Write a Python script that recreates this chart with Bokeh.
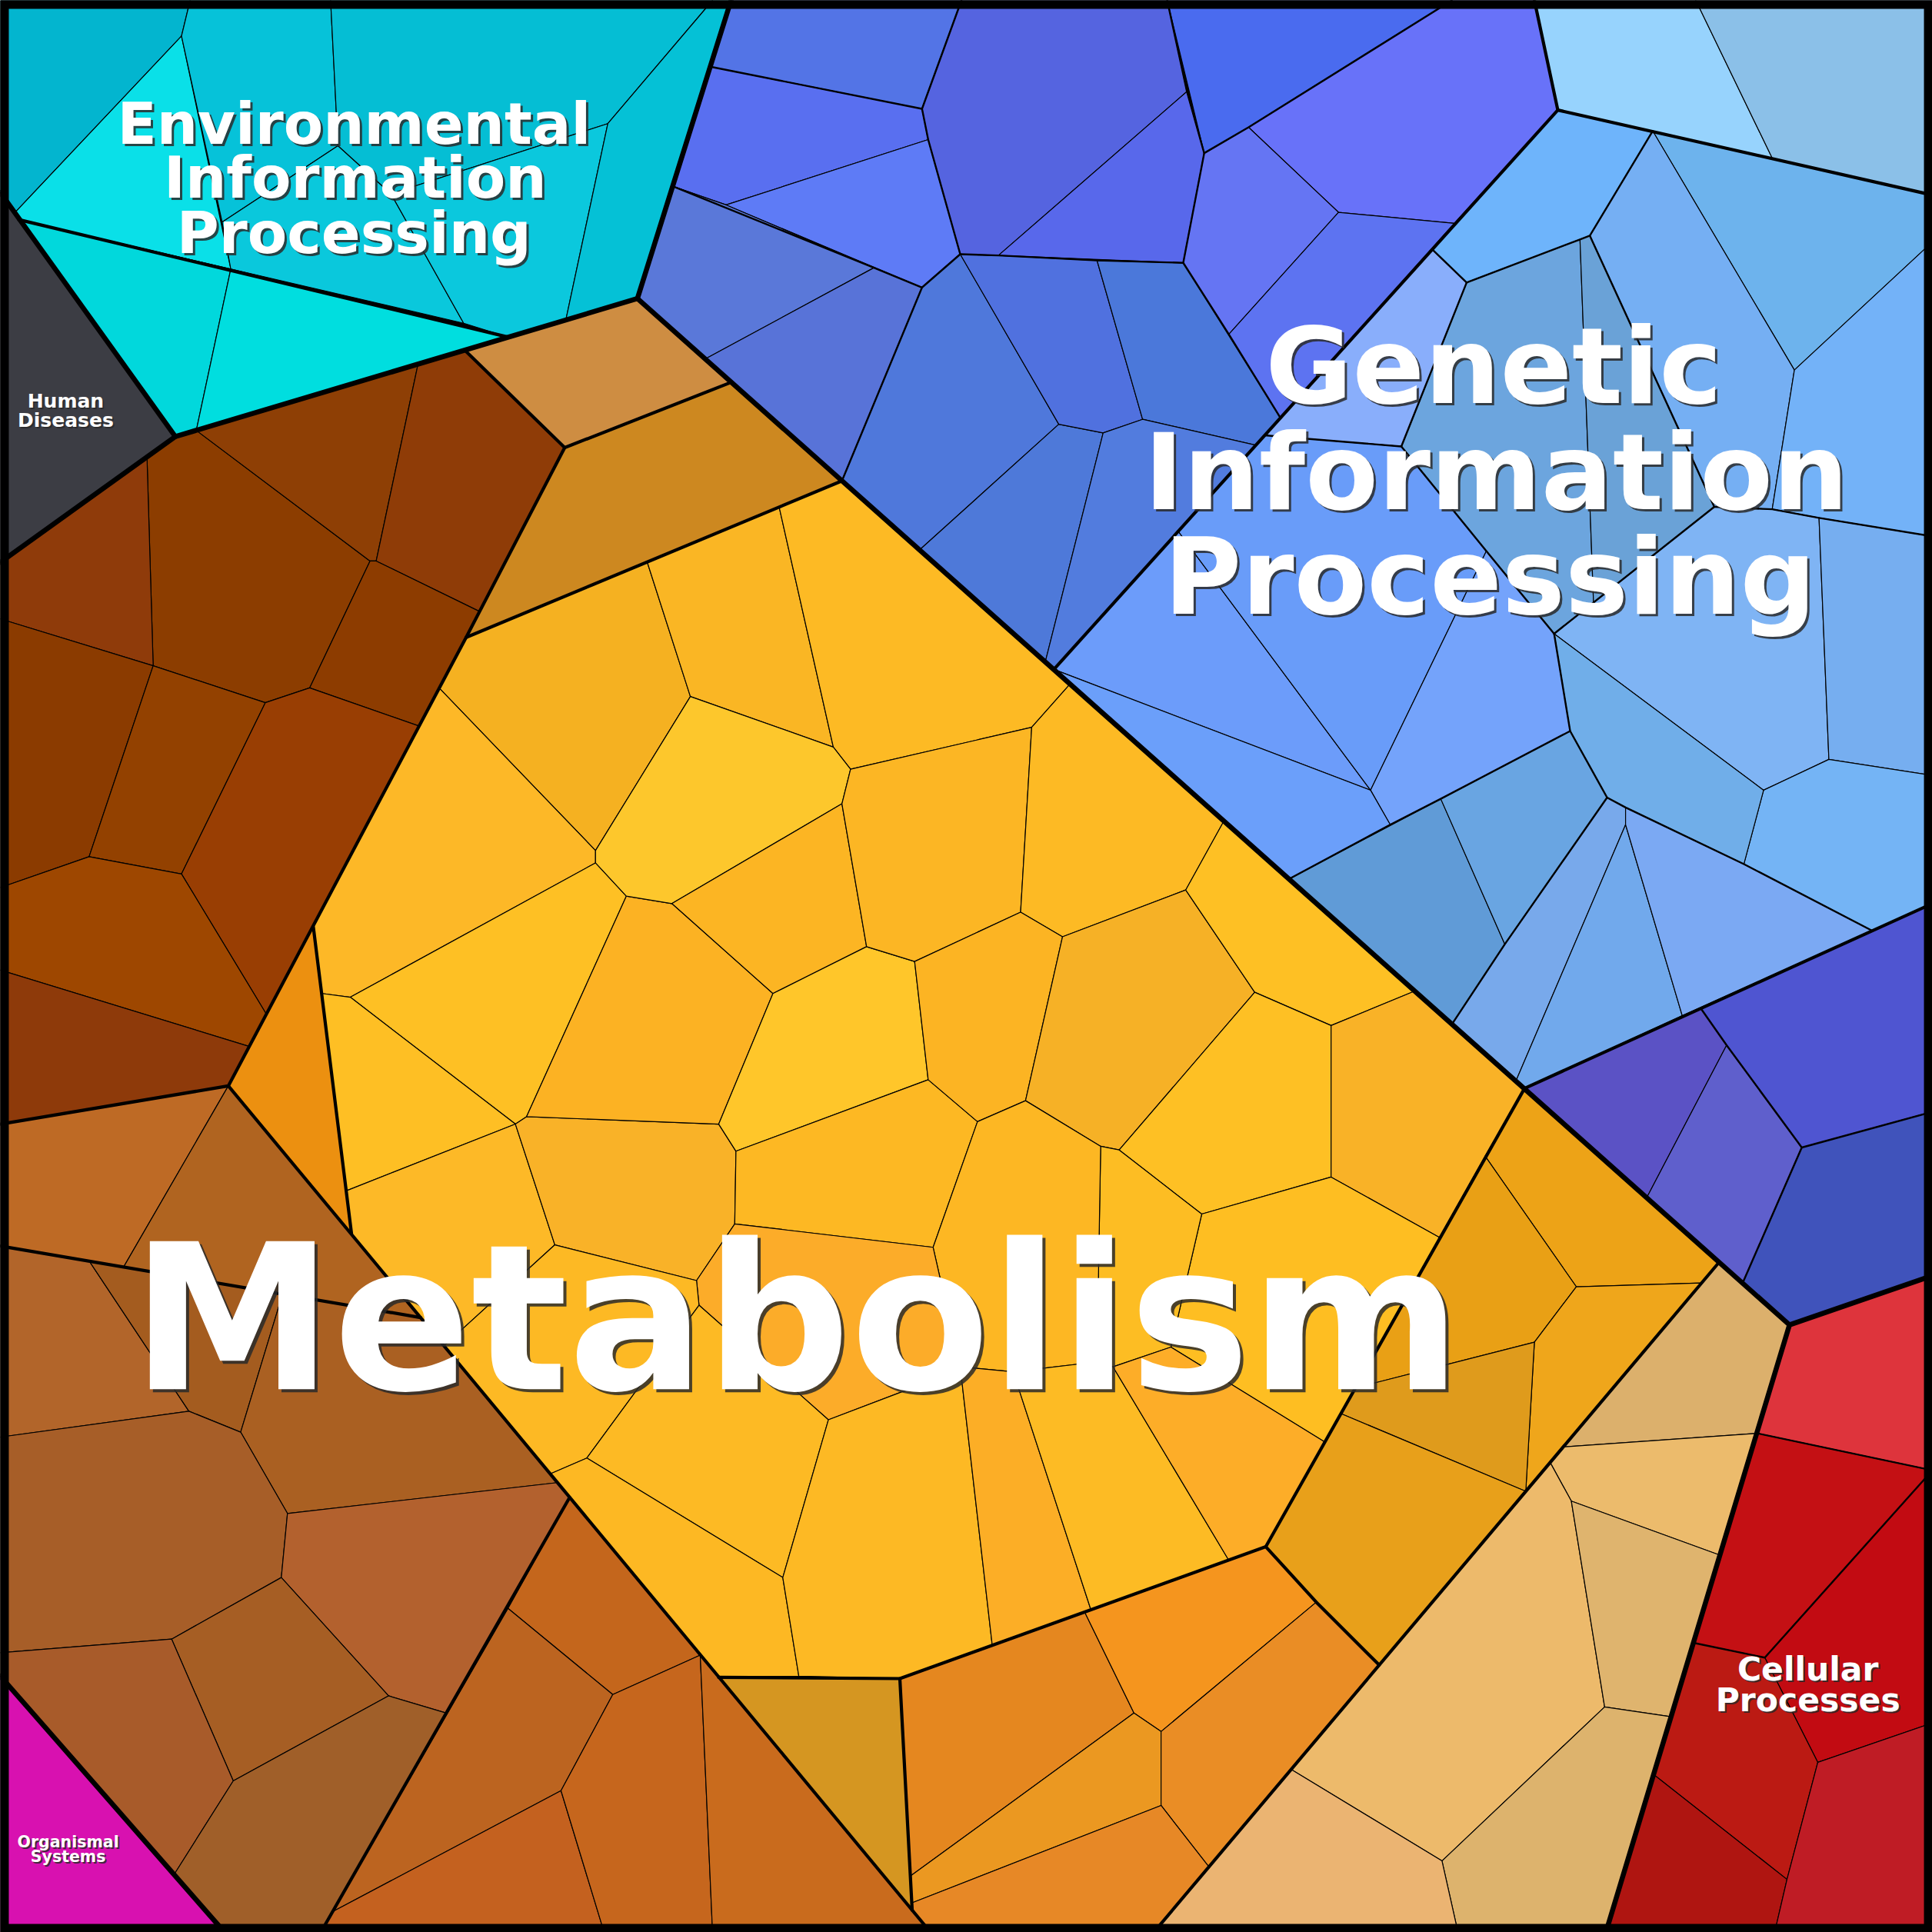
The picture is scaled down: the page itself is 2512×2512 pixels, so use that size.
from bokeh.plotting import figure
from bokeh.models import Range1d, ColumnDataSource
from bokeh.core.properties import value
from bokeh.embed import file_html
from bokeh.resources import INLINE

# ---------------- DATA (cell geometry of the Voronoi treemap, picture units 0..1568) -------------

# Environmental Information Processing
env_cells = [
    [(0, 0), (154, 0), (147, 29), (12, 172), (7, 166), (0, 156)],
    [(147, 29), (187, 218), (15, 178), (12, 172)],
    [(154, 0), (268, 0), (274, 118), (180, 180), (147, 29)],
    [(180, 180), (274, 118), (317, 157), (376, 262), (187, 218)],
    [(268, 0), (578, 0), (493, 100), (317, 157), (274, 118)],
    [(317, 157), (493, 100), (459, 259), (411, 273), (376, 262)],
    [(493, 100), (578, 0), (593, 0), (517, 242), (459, 259)],
    [(15, 178), (187, 218), (159, 349), (142, 354)],
    [(187, 218), (411, 273), (159, 349)],
]
env_colors = ["#03b5cf", "#0ae0e8", "#06c2d9", "#0ac8dc", "#05bed4",
              "#0bc8dd", "#05c1d6", "#01d8dc", "#00dedf"]

# Human Diseases
hd_cells = [[(0, 156), (7, 166), (142, 354), (0, 456)]]
hd_colors = ["#3c3d44"]

# Organismal Systems
org_cells = [[(0, 1360), (182, 1568), (0, 1568)]]
org_colors = ["#d811b0"]

# Metabolism - dark brown group
met_brown_cells = [
    [(119, 371), (142, 354), (159, 349), (300, 455), (251, 558), (215, 570), (124, 540)],
    [(159, 349), (339, 295), (305, 455), (300, 455)],
    [(339, 295), (377, 284), (458, 363), (389, 496), (305, 455)],
    [(300, 455), (305, 455), (389, 496), (378, 517), (340, 589), (251, 558)],
    [(0, 456), (119, 371), (124, 540), (0, 502)],
    [(0, 502), (124, 540), (72, 695), (0, 720)],
    [(124, 540), (215, 570), (147, 709), (72, 695)],
    [(215, 570), (251, 558), (340, 589), (216, 823), (147, 709)],
    [(0, 720), (72, 695), (147, 709), (216, 823), (202, 849), (0, 787)],
    [(0, 787), (202, 849), (185, 881), (0, 912)],
]
met_brown_colors = ["#8c3d00", "#8e3f05", "#8f3c07", "#8d3c00", "#8f3b0a",
                    "#8b3b00", "#934100", "#993e03", "#9e4700", "#8e3a0a"]

# Metabolism - single-cell groups
met_single_cells = [
    [(377, 284), (517, 242), (593, 310), (458, 363)],
    [(458, 363), (593, 310), (683, 390), (378, 517)],
    [(254, 752), (185, 881), (285, 1001)],
    [(583, 1361), (730, 1362), (740, 1550)],
]
met_single_colors = ["#ce8d42", "#cd8820", "#ec9010", "#d59621"]

# Metabolism - main yellow group
met_yellow_cells = [
    [(378, 517), (525, 456), (560, 565), (483, 690), (356, 558)],
    [(525, 456), (632, 411), (676, 606), (560, 565)],
    [(632, 411), (683, 390), (868, 555), (837, 590), (690, 624), (676, 606)],
    [(356, 558), (483, 690), (483, 700), (284, 809), (261, 806), (254, 752)],
    [(284, 809), (483, 700), (508, 727), (427, 906), (418, 912)],
    [(261, 806), (284, 809), (418, 912), (281, 966)],
    [(281, 966), (418, 912), (450, 1010), (360, 1092), (285, 1001)],
    [(418, 912), (427, 906), (583, 912), (597, 934), (596, 993), (565, 1039), (450, 1010)],
    [(508, 727), (545, 733), (627, 806), (583, 912), (427, 906)],
    [(483, 690), (560, 565), (676, 606), (690, 624), (683, 652), (545, 733), (508, 727), (483, 700)],
    [(545, 733), (683, 652), (703, 768), (627, 806)],
    [(627, 806), (703, 768), (742, 780), (753, 876), (597, 934), (583, 912)],
    [(597, 934), (753, 876), (793, 910), (757, 1012), (596, 993)],
    [(683, 652), (690, 624), (837, 590), (828, 740), (742, 780), (703, 768)],
    [(837, 590), (868, 555), (993, 666), (962, 722), (862, 760), (828, 740)],
    [(742, 780), (828, 740), (862, 760), (832, 893), (793, 910), (753, 876)],
    [(862, 760), (962, 722), (1018, 805), (908, 933), (893, 930), (832, 893)],
    [(993, 666), (1148, 804), (1080, 832), (1018, 805), (962, 722)],
    [(1018, 805), (1080, 832), (1080, 955), (975, 985), (908, 933)],
    [(1080, 832), (1148, 804), (1237, 883), (1168, 1004), (1080, 955)],
    [(975, 985), (1080, 955), (1168, 1004), (1075, 1170), (950, 1093)],
    [(893, 930), (908, 933), (975, 985), (950, 1093), (903, 1109), (890, 1105)],
    [(793, 910), (832, 893), (893, 930), (890, 1105), (822, 1113), (779, 1109), (757, 1012)],
    [(596, 993), (757, 1012), (779, 1109), (735, 1128), (672, 1152), (645, 1128), (567, 1059), (565, 1039)],
    [(450, 1010), (565, 1039), (567, 1059), (476, 1183), (446, 1196), (360, 1092)],
    [(567, 1059), (645, 1128), (672, 1152), (635, 1280), (476, 1183)],
    [(446, 1196), (476, 1183), (635, 1280), (648, 1360), (583, 1361)],
    [(672, 1152), (735, 1128), (779, 1109), (805, 1335), (730, 1362), (648, 1360), (635, 1280)],
    [(779, 1109), (822, 1113), (885, 1306), (805, 1335)],
    [(822, 1113), (890, 1105), (903, 1109), (997, 1266), (885, 1306)],
    [(903, 1109), (950, 1093), (1075, 1170), (1027, 1255), (997, 1266)],
]
met_yellow_colors = ["#f5b121", "#fab624", "#fdba24", "#fdb827", "#fec024", "#febf24",
                     "#fdb927", "#f9b228", "#fcb223", "#fdc72c", "#fcb523", "#ffc62a",
                     "#fdb823", "#fcb624", "#fdba24", "#fcb423", "#f6b126", "#fec024",
                     "#fec024", "#f9b227", "#febe22", "#fdbd23", "#fdb723", "#fcac29",
                     "#fdb924", "#fdba24", "#fdb823", "#fdb924", "#fcae26", "#fdbb24",
                     "#fdad28"]

# Metabolism - dark orange group
met_dorange_cells = [
    [(1237, 883), (1395, 1024), (1381, 1041), (1279, 1044), (1205, 938)],
    [(1205, 938), (1279, 1044), (1245, 1089), (1100, 1126)],
    [(1279, 1044), (1381, 1041), (1238, 1210), (1245, 1089)],
    [(1100, 1126), (1245, 1089), (1238, 1210), (1088, 1147)],
    [(1088, 1147), (1238, 1210), (1119, 1351), (1068, 1300), (1027, 1255)],
]
met_dorange_colors = ["#eda317", "#e9a015", "#efa61b", "#df9b1c", "#e8a01a"]

# Metabolism - orange group (bottom)
met_orange_cells = [
    [(730, 1362), (880, 1308), (920, 1390), (739, 1522)],
    [(880, 1308), (1027, 1255), (1068, 1300), (942, 1405), (920, 1390)],
    [(739, 1522), (920, 1390), (942, 1405), (942, 1465), (740, 1544)],
    [(942, 1405), (1068, 1300), (1119, 1351), (981, 1515), (942, 1465)],
    [(740, 1544), (942, 1465), (981, 1515), (936, 1568), (755, 1568), (740, 1550)],
]
met_orange_colors = ["#e5871f", "#f5951e", "#eb9821", "#ea8d25", "#e78826"]

# Metabolism - tan group
met_tan_cells = [
    [(1395, 1024), (1452, 1075), (1426, 1163), (1268, 1174)],
    [(1268, 1174), (1426, 1163), (1396, 1262), (1275, 1218), (1258, 1187)],
    [(1258, 1187), (1275, 1218), (1302, 1385), (1170, 1510), (1048, 1436)],
    [(1275, 1218), (1396, 1262), (1356, 1393), (1302, 1385)],
    [(1302, 1385), (1356, 1393), (1303, 1568), (1183, 1568), (1170, 1510)],
    [(1048, 1436), (1170, 1510), (1183, 1568), (936, 1568)],
]
met_tan_colors = ["#dcb06c", "#ecbb6c", "#edba6b", "#dfb46e", "#ddb36d", "#ebb472"]

# Metabolism - lower brown groups
met_lbrown_cells = [
    [(0, 912), (185, 881), (100, 1028), (0, 1011)],
    [(185, 881), (341, 1069), (100, 1028)],
    [(0, 1011), (72, 1023), (153, 1145), (0, 1166)],
    [(72, 1023), (229, 1050), (195, 1162), (153, 1145)],
    [(229, 1050), (341, 1069), (452, 1203), (233, 1228), (195, 1162)],
    [(0, 1166), (153, 1145), (195, 1162), (233, 1228), (228, 1280), (139, 1330), (0, 1341)],
    [(233, 1228), (452, 1203), (462, 1215), (362, 1390), (315, 1376), (228, 1280)],
    [(228, 1280), (315, 1376), (189, 1445), (139, 1330)],
    [(0, 1341), (139, 1330), (189, 1445), (141, 1521), (0, 1360)],
    [(189, 1445), (315, 1376), (362, 1390), (260, 1568), (182, 1568), (141, 1521)],
    [(462, 1215), (568, 1343), (497, 1375), (412, 1305)],
    [(412, 1305), (497, 1375), (455, 1453), (270, 1551)],
    [(270, 1551), (455, 1453), (490, 1568), (260, 1568)],
    [(497, 1375), (568, 1343), (578, 1568), (490, 1568), (455, 1453)],
    [(568, 1343), (755, 1568), (578, 1568)],
]
met_lbrown_colors = ["#be6a25", "#b06420", "#b2652a", "#a45c1f", "#aa6022", "#a75e28",
                     "#b3612e", "#a65e24", "#a85b2a", "#a05f29", "#c4661c", "#bc6420",
                     "#c4611f", "#c6661d", "#c96b1d"]

# Genetic Information Processing - royal blue group
gen_royal_cells = [
    [(593, 0), (780, 0), (748, 88), (577, 54)],
    [(577, 54), (748, 88), (753, 113), (589, 166), (546, 151)],
    [(589, 166), (753, 113), (779, 206), (748, 233)],
    [(546, 151), (589, 166), (709, 217), (572, 291), (517, 242)],
    [(572, 291), (709, 217), (748, 233), (683, 390)],
    [(748, 233), (779, 206), (859, 344), (746, 446), (683, 390)],
    [(746, 446), (859, 344), (895, 351), (848, 537)],
    [(779, 206), (810, 207), (890, 211), (927, 340), (895, 351), (859, 344)],
    [(890, 211), (960, 213), (1039, 339), (1019, 361), (927, 340)],
    [(895, 351), (927, 340), (1019, 361), (855, 543), (848, 537)],
    [(748, 88), (780, 0), (947, 0), (963, 74), (810, 207), (779, 206), (753, 113)],
    [(963, 74), (977, 124), (960, 213), (810, 207)],
    [(947, 0), (1178, 0), (1013, 103), (977, 124)],
    [(1178, 0), (1245, 0), (1264, 89), (1180, 181), (1086, 172), (1013, 103)],
    [(977, 124), (1013, 103), (1086, 172), (997, 271), (960, 213)],
    [(997, 271), (1086, 172), (1180, 181), (1039, 339)],
]
gen_royal_colors = ["#5374e6", "#596ff0", "#5e7bf6", "#5a78d9", "#5873d8", "#4f78db",
                    "#4e79d9", "#5071df", "#4b78da", "#527cde", "#5564e0", "#5868eb",
                    "#4a6bef", "#6872f9", "#6575f3", "#5d73f1"]

# Genetic Information Processing - pale top group
gen_pale_cells = [
    [(1245, 0), (1376, 0), (1438, 128), (1264, 89)],
    [(1376, 0), (1568, 0), (1568, 158), (1438, 128)],
]
gen_pale_colors = ["#97d3fd", "#8bc0e8"]

# Genetic Information Processing - sky blue group
gen_sky_cells = [
    [(1264, 89), (1341, 106), (1290, 191), (1282, 194), (1190, 229), (1162, 202)],
    [(1341, 106), (1568, 158), (1568, 196), (1456, 300)],
    [(1341, 106), (1456, 300), (1438, 413), (1391, 411), (1290, 191)],
    [(1568, 196), (1568, 435), (1476, 420), (1438, 413), (1456, 300)],
    [(1190, 229), (1282, 194), (1293, 489), (1261, 514), (1206, 447), (1137, 362)],
    [(1282, 194), (1290, 191), (1391, 411), (1293, 489)],
    [(1162, 202), (1190, 229), (1137, 362), (1026, 353)],
    [(1391, 411), (1438, 413), (1476, 420), (1484, 616), (1431, 641), (1261, 514)],
    [(1476, 420), (1568, 435), (1568, 629), (1484, 616)],
    [(1484, 616), (1568, 629), (1568, 733), (1519, 755), (1415, 701), (1431, 641)],
    [(1261, 514), (1431, 641), (1415, 701), (1319, 655), (1304, 647), (1274, 593)],
    [(1304, 647), (1319, 655), (1319, 669), (1230, 877), (1178, 831), (1221, 766)],
    [(1319, 669), (1365, 824), (1237, 883), (1230, 877)],
    [(1319, 655), (1415, 701), (1519, 755), (1365, 824), (1319, 669)],
    [(1046, 713), (1169, 648), (1221, 766), (1178, 831)],
    [(1169, 648), (1274, 593), (1304, 647), (1221, 766)],
    [(855, 543), (956, 431), (1112, 641)],
    [(956, 431), (1026, 353), (1137, 362), (1206, 447), (1112, 641)],
    [(1206, 447), (1261, 514), (1274, 593), (1169, 648), (1128, 669), (1112, 641)],
    [(855, 543), (1112, 641), (1128, 669), (1046, 713)],
]
gen_sky_colors = ["#6eb4fb", "#6db3ed", "#75aff3", "#73b2f8", "#6ca5de", "#6aa2d7",
                  "#89aefb", "#7fb4f4", "#76aef0", "#74b4f5", "#70aee9", "#78a9eb",
                  "#71a9ec", "#7ba9f3", "#609bd7", "#69a5e2", "#6c9cfa", "#699cf9",
                  "#74a3fb", "#6b9ffa"]

# Genetic Information Processing - violet group
gen_violet_cells = [
    [(1237, 883), (1380, 818), (1401, 848), (1336, 972)],
    [(1401, 848), (1462, 931), (1414, 1041), (1336, 972)],
    [(1380, 818), (1568, 733), (1568, 902), (1462, 931), (1401, 848)],
    [(1462, 931), (1568, 902), (1568, 1035), (1452, 1075), (1414, 1041)],
]
gen_violet_colors = ["#5b52c5", "#5f5fcc", "#4f55d1", "#4053bb"]

# Cellular Processes
cell_cells = [
    [(1452, 1075), (1568, 1035), (1568, 1193), (1426, 1163)],
    [(1426, 1163), (1568, 1193), (1432, 1345), (1374, 1333)],
    [(1432, 1345), (1568, 1193), (1568, 1398), (1475, 1430)],
    [(1374, 1333), (1432, 1345), (1475, 1430), (1450, 1525), (1342, 1440)],
    [(1342, 1440), (1450, 1525), (1440, 1568), (1303, 1568)],
    [(1475, 1430), (1568, 1398), (1568, 1568), (1440, 1568), (1450, 1525)],
]
cell_colors = ["#de343c", "#c41014", "#c20b12", "#bb1a13", "#af1511", "#bf1c25"]

# Boundaries between groups
region_borders = [
    [(593, 0), (517, 242)],
    [(0, 156), (142, 354), (0, 456)],
    [(142, 354), (517, 242), (1452, 1075)],
    [(1568, 1035), (1452, 1075), (1303, 1568)],
    [(0, 1360), (182, 1568)],
]
group_borders = [
    [(15, 178), (411, 273)],
    [(1245, 0), (1264, 89), (855, 543)],
    [(1264, 89), (1568, 158)],
    [(1237, 883), (1568, 733)],
    [(377, 284), (458, 363), (378, 517), (185, 881), (0, 912)],
    [(458, 363), (593, 310)],
    [(378, 517), (683, 390)],
    [(254, 752), (285, 1001)],
    [(185, 881), (755, 1568)],
    [(1237, 883), (1027, 1255)],
    [(583, 1361), (730, 1362), (1027, 1255), (1068, 1300), (1119, 1351)],
    [(730, 1362), (740, 1550)],
    [(1395, 1024), (936, 1568)],
    [(0, 1011), (341, 1069)],
    [(462, 1215), (260, 1568)],
]
subgroup_borders = [
    [(577, 54), (748, 88), (780, 0)],
    [(748, 88), (753, 113), (779, 206)],
    [(546, 151), (709, 217), (748, 233), (779, 206)],
    [(748, 233), (683, 390)],
    [(779, 206), (810, 207), (890, 211), (960, 213), (997, 271), (1039, 339)],
    [(947, 0), (963, 74), (977, 124), (960, 213)],
    [(977, 124), (1013, 103), (1178, 0)],
    [(1341, 106), (1290, 191), (1282, 194), (1190, 229), (1162, 202)],
    [(1290, 191), (1391, 411)],
    [(1391, 411), (1261, 514)],
    [(1391, 411), (1438, 413), (1476, 420), (1568, 435)],
    [(1190, 229), (1137, 362)],
    [(1026, 353), (1137, 362), (1206, 447), (1261, 514)],
    [(1261, 514), (1274, 593), (1304, 647), (1319, 655), (1415, 701), (1519, 755)],
    [(1274, 593), (1169, 648), (1128, 669), (1046, 713)],
    [(1304, 647), (1221, 766), (1178, 831)],
    [(1380, 818), (1401, 848), (1462, 931), (1568, 902)],
    [(1462, 931), (1414, 1041)],
    [(1426, 1163), (1568, 1193)],
    [(1374, 1333), (1432, 1345), (1568, 1193)],
]

# Labels
label_text = ["Environmental", "Information", "Processing",
              "Genetic", "Information", "Processing",
              "Metabolism",
              "Human", "Diseases",
              "Organismal", "Systems",
              "Cellular", "Processes"]

# ---------------- LAYOUT / STYLE ----------------
label_x = [287, 288, 287, 1212, 1214, 1209, 646, 53, 53, 55, 55, 1467, 1467]
label_y = [100, 144, 189, 297, 383, 468, 1070, 325.5, 341, 1494.5, 1506.5, 1354.5, 1379.5]
label_size = ["75px", "75px", "75px", "138px", "138px", "138px", "264px",
              "25px", "25px", "20.5px", "20.5px", "42.5px", "42.5px"]
label_shadow = [3, 3, 3, 3, 3, 3, 4, 2, 2, 2, 2, 2, 2]

p = figure(width=2512, height=2512,
           x_range=Range1d(0, 1568), y_range=Range1d(1568, 0),
           toolbar_location=None, output_backend="svg",
           x_axis_location=None, y_axis_location=None, min_border=0)
p.grid.visible = False
p.background_fill_color = "black"
p.border_fill_color = "white"
p.outline_line_color = None


def add_cells(cells, colors):
    xs = [[pt[0] for pt in c] for c in cells]
    ys = [[pt[1] for pt in c] for c in cells]
    src = ColumnDataSource(dict(xs=xs, ys=ys, color=colors))
    p.patches("xs", "ys", source=src, fill_color="color",
              line_color="black", line_width=1.2, line_join="round")


for cells, colors in [(env_cells, env_colors), (hd_cells, hd_colors), (org_cells, org_colors),
                      (met_brown_cells, met_brown_colors), (met_single_cells, met_single_colors),
                      (met_yellow_cells, met_yellow_colors), (met_dorange_cells, met_dorange_colors),
                      (met_orange_cells, met_orange_colors), (met_tan_cells, met_tan_colors),
                      (met_lbrown_cells, met_lbrown_colors), (gen_royal_cells, gen_royal_colors),
                      (gen_pale_cells, gen_pale_colors), (gen_sky_cells, gen_sky_colors),
                      (gen_violet_cells, gen_violet_colors), (cell_cells, cell_colors)]:
    add_cells(cells, colors)


def add_lines(lines, width):
    xs = [[pt[0] for pt in l] for l in lines]
    ys = [[pt[1] for pt in l] for l in lines]
    p.multi_line(xs, ys, line_color="black", line_width=width,
                 line_join="round", line_cap="round")


add_lines(subgroup_borders, 2.4)
add_lines(group_borders, 4.2)
add_lines(region_borders, 6.5)

# outer frame
p.patch([3.4, 1564.6, 1564.6, 3.4], [3.4, 3.4, 1564.6, 1564.6],
        fill_alpha=0, line_color="black", line_width=11, line_join="miter")

label_src = ColumnDataSource(dict(x=label_x, y=label_y, t=label_text, s=label_size, o=label_shadow))
p.text("x", "y", text="t", source=label_src, text_font=value("DejaVu Sans"),
       text_font_style="bold", text_font_size="s", text_color="#2a2a2a", text_alpha=0.85,
       text_align="center", text_baseline="alphabetic", x_offset="o", y_offset="o")
p.text("x", "y", text="t", source=label_src, text_font=value("DejaVu Sans"),
       text_font_style="bold", text_font_size="s", text_color="white",
       text_align="center", text_baseline="alphabetic")

open("out.html", "w").write(file_html(p, INLINE))
